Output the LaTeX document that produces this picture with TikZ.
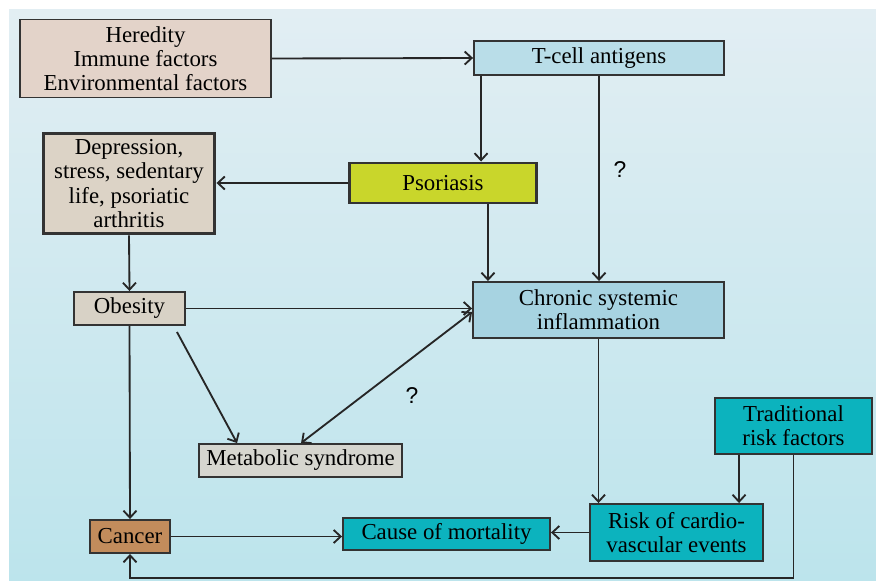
\documentclass[tikz,border=0pt]{standalone}
\usepackage{fontspec}
\setmainfont{Liberation Serif}
\newfontfamily\qfont{Liberation Sans}
\usetikzlibrary{arrows.meta}

\definecolor{herfill}{HTML}{E3D3C9}
\definecolor{tcellfill}{HTML}{B9DDE8}
\definecolor{depfill}{HTML}{DCD3C6}
\definecolor{psofill}{HTML}{C9D62B}
\definecolor{obefill}{HTML}{D8D2C6}
\definecolor{csifill}{HTML}{A7D3E1}
\definecolor{metfill}{HTML}{D6D6CF}
\definecolor{tealfill}{HTML}{0CB3BE}
\definecolor{canfill}{HTML}{C28C5C}
\definecolor{edge}{HTML}{333333}
\definecolor{bgtop}{HTML}{E2EEF3}
\definecolor{bgbot}{HTML}{BCE4EC}

\begin{document}
\begin{tikzpicture}[x=0.02cm, y=-0.02cm, >={Straight Barb[length=1.4mm,width=2.6mm]},
    box/.style={rectangle, draw=edge, line width=1.1pt, inner sep=0pt, align=center,
                font=\fontsize{13}{13.8}\selectfont},
    thick box/.style={box, line width=1.7pt},
    link/.style={->, line width=1.05pt, draw=black!85}]

            % Background
            \useasboundingbox (0,0) rectangle (876,581);
            \fill[white] (0,0) rectangle (876,581);
            \shade[top color=bgtop, bottom color=bgbot] (9,10) rectangle (876,581);

            % Nodes
            \node[box, fill=herfill, minimum width=5.02cm, minimum height=1.56cm] (her) at (145.5,58.5)
                {Heredity\\Immune factors\\Environmental factors};
            \node[box, fill=tcellfill, minimum width=5.0cm, minimum height=0.68cm] (tcell) at (599,58) {T-cell antigens};
            \node[thick box, fill=depfill, minimum width=3.44cm, minimum height=2.02cm] (dep) at (129,183.5)
                {Depression,\\stress, sedentary\\life, psoriatic\\arthritis};
            \node[thick box, fill=psofill, minimum width=3.76cm, minimum height=0.8cm] (pso) at (443,183) {Psoriasis};
            \node[box, fill=obefill, minimum width=2.22cm, minimum height=0.66cm] (obe) at (129.5,308.5) {Obesity};
            \node[box, fill=csifill, minimum width=5.02cm, minimum height=1.12cm] (csi) at (598.5,310)
                {Chronic systemic\\inflammation};
            \node[box, fill=metfill, minimum width=4.06cm, minimum height=0.66cm] (met) at (300.5,460.5) {Metabolic syndrome};
            \node[box, fill=tealfill, minimum width=3.14cm, minimum height=1.12cm] (trf) at (793.5,426)
                {Traditional\\risk factors};
            \node[box, fill=tealfill, minimum width=3.46cm, minimum height=1.14cm] (risk) at (676.5,532.5)
                {Risk of cardio-\\vascular events};
            \node[box, fill=tealfill, minimum width=4.14cm, minimum height=0.64cm] (cause) at (446.5,534) {Cause of mortality};
            \node[box, fill=canfill, minimum width=1.6cm, minimum height=0.66cm] (can) at (130,536.5) {Cancer};

            % Question marks
            \node[font=\qfont\fontsize{13}{13}\selectfont] (q1) at (620,170) {?};
            \node[font=\qfont\fontsize{13}{13}\selectfont] (q2) at (412,396) {?};

            % Links
            \draw[link] (her.east) -- (tcell.west);
            \draw[link] ([xshift=0.16cm]tcell.south west) -- ([xshift=0.16cm]tcell.south west |- pso.north);
            \draw[link] (tcell.south) -- (tcell.south |- csi.north);
            \draw[link] (pso.west) -- (pso.west -| dep.east);
            \draw[link] ([xshift=0.9cm]pso.south) -- ([xshift=0.9cm]pso.south |- csi.north);
            \draw[link] (dep.south) -- (obe.north);
            \draw[link] (obe.east) -- (obe.east -| csi.west);
            \draw[link] ([xshift=-0.18cm,yshift=-0.12cm]obe.south east) -- ([xshift=0.78cm]met.north west);
            \draw[link, <->] ([xshift=2.06cm]met.north west) -- ([yshift=-0.04cm]csi.west);
            \draw[link] (obe.south) -- (can.north);
            \draw[link] (can.east) -- (can.east -| cause.west);
            \draw[link] (csi.south) -- (csi.south |- risk.north);
            \draw[link] ([xshift=0.5cm]trf.south west) -- ([xshift=0.5cm]trf.south west |- risk.north);
            \draw[link] (risk.west) -- (risk.west -| cause.east);
            \draw[link] (trf.south) -- ++(0,123) -| (can.south);
          \end{tikzpicture}
\end{document}
